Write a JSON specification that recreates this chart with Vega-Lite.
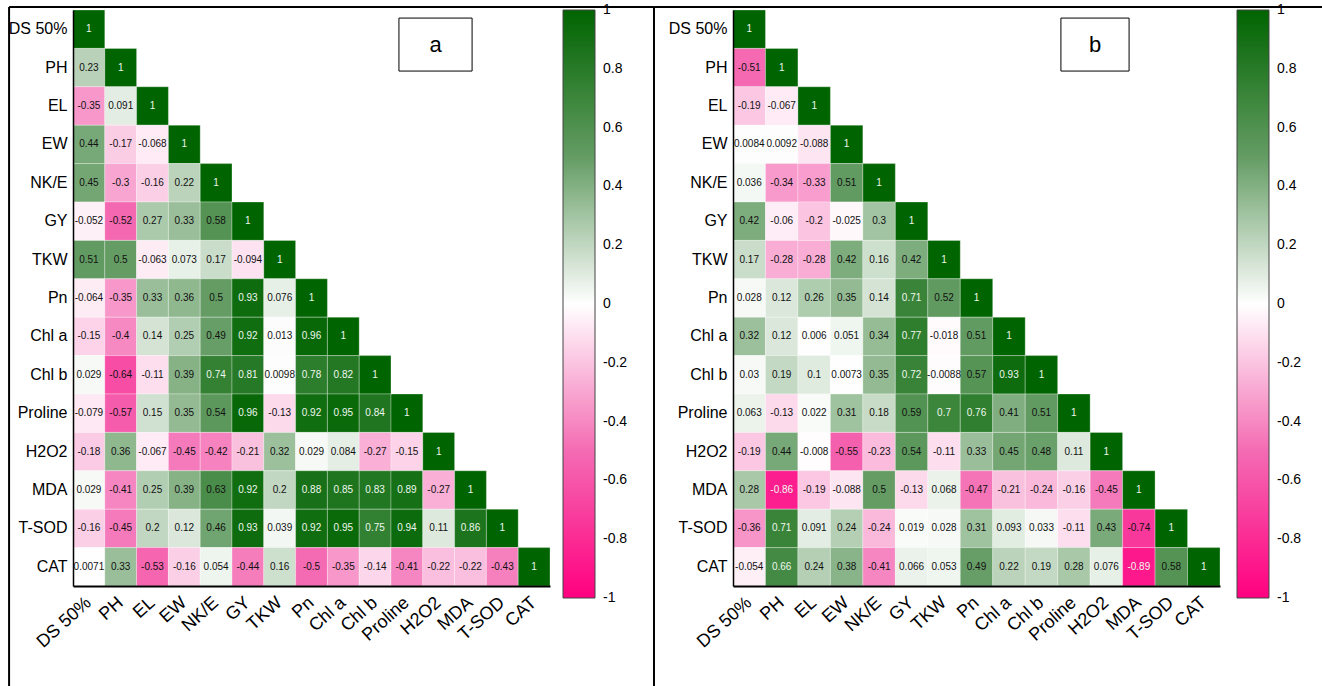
{
  "$schema": "https://vega.github.io/schema/vega-lite/v6.json",
  "background": "white",
  "padding": {"left": 8, "top": 5, "right": 0, "bottom": 0},
  "bounds": "flush",
  "spacing": 183,
  "resolve": {"scale": {"color": "independent"}, "legend": {"color": "independent"}},
  "config": {
    "view": {"stroke": null},
    "font": "Liberation Sans",
    "axis": {"labelFont": "Liberation Sans", "labelColor": "black", "ticks": false, "grid": false, "title": null, "domainColor": "black"},
    "legend": {"labelFont": "Liberation Sans"}
  },
  "datasets": {
    "a": [
      {"v":"DS 50%","DS 50%":1},
      {"v":"PH","DS 50%":0.23,"PH":1},
      {"v":"EL","DS 50%":-0.35,"PH":0.091,"EL":1},
      {"v":"EW","DS 50%":0.44,"PH":-0.17,"EL":-0.068,"EW":1},
      {"v":"NK/E","DS 50%":0.45,"PH":-0.3,"EL":-0.16,"EW":0.22,"NK/E":1},
      {"v":"GY","DS 50%":-0.052,"PH":-0.52,"EL":0.27,"EW":0.33,"NK/E":0.58,"GY":1},
      {"v":"TKW","DS 50%":0.51,"PH":0.5,"EL":-0.063,"EW":0.073,"NK/E":0.17,"GY":-0.094,"TKW":1},
      {"v":"Pn","DS 50%":-0.064,"PH":-0.35,"EL":0.33,"EW":0.36,"NK/E":0.5,"GY":0.93,"TKW":0.076,"Pn":1},
      {"v":"Chl a","DS 50%":-0.15,"PH":-0.4,"EL":0.14,"EW":0.25,"NK/E":0.49,"GY":0.92,"TKW":0.013,"Pn":0.96,"Chl a":1},
      {"v":"Chl b","DS 50%":0.029,"PH":-0.64,"EL":-0.11,"EW":0.39,"NK/E":0.74,"GY":0.81,"TKW":0.0098,"Pn":0.78,"Chl a":0.82,"Chl b":1},
      {"v":"Proline","DS 50%":-0.079,"PH":-0.57,"EL":0.15,"EW":0.35,"NK/E":0.54,"GY":0.96,"TKW":-0.13,"Pn":0.92,"Chl a":0.95,"Chl b":0.84,"Proline":1},
      {"v":"H2O2","DS 50%":-0.18,"PH":0.36,"EL":-0.067,"EW":-0.45,"NK/E":-0.42,"GY":-0.21,"TKW":0.32,"Pn":0.029,"Chl a":0.084,"Chl b":-0.27,"Proline":-0.15,"H2O2":1},
      {"v":"MDA","DS 50%":0.029,"PH":-0.41,"EL":0.25,"EW":0.39,"NK/E":0.63,"GY":0.92,"TKW":0.2,"Pn":0.88,"Chl a":0.85,"Chl b":0.83,"Proline":0.89,"H2O2":-0.27,"MDA":1},
      {"v":"T-SOD","DS 50%":-0.16,"PH":-0.45,"EL":0.2,"EW":0.12,"NK/E":0.46,"GY":0.93,"TKW":0.039,"Pn":0.92,"Chl a":0.95,"Chl b":0.75,"Proline":0.94,"H2O2":0.11,"MDA":0.86,"T-SOD":1},
      {"v":"CAT","DS 50%":0.0071,"PH":0.33,"EL":-0.53,"EW":-0.16,"NK/E":0.054,"GY":-0.44,"TKW":0.16,"Pn":-0.5,"Chl a":-0.35,"Chl b":-0.14,"Proline":-0.41,"H2O2":-0.22,"MDA":-0.22,"T-SOD":-0.43,"CAT":1}
    ],
    "b": [
      {"v":"DS 50%","DS 50%":1},
      {"v":"PH","DS 50%":-0.51,"PH":1},
      {"v":"EL","DS 50%":-0.19,"PH":-0.067,"EL":1},
      {"v":"EW","DS 50%":0.0084,"PH":0.0092,"EL":-0.088,"EW":1},
      {"v":"NK/E","DS 50%":0.036,"PH":-0.34,"EL":-0.33,"EW":0.51,"NK/E":1},
      {"v":"GY","DS 50%":0.42,"PH":-0.06,"EL":-0.2,"EW":-0.025,"NK/E":0.3,"GY":1},
      {"v":"TKW","DS 50%":0.17,"PH":-0.28,"EL":-0.28,"EW":0.42,"NK/E":0.16,"GY":0.42,"TKW":1},
      {"v":"Pn","DS 50%":0.028,"PH":0.12,"EL":0.26,"EW":0.35,"NK/E":0.14,"GY":0.71,"TKW":0.52,"Pn":1},
      {"v":"Chl a","DS 50%":0.32,"PH":0.12,"EL":0.006,"EW":0.051,"NK/E":0.34,"GY":0.77,"TKW":-0.018,"Pn":0.51,"Chl a":1},
      {"v":"Chl b","DS 50%":0.03,"PH":0.19,"EL":0.1,"EW":0.0073,"NK/E":0.35,"GY":0.72,"TKW":-0.0088,"Pn":0.57,"Chl a":0.93,"Chl b":1},
      {"v":"Proline","DS 50%":0.063,"PH":-0.13,"EL":0.022,"EW":0.31,"NK/E":0.18,"GY":0.59,"TKW":0.7,"Pn":0.76,"Chl a":0.41,"Chl b":0.51,"Proline":1},
      {"v":"H2O2","DS 50%":-0.19,"PH":0.44,"EL":-0.008,"EW":-0.55,"NK/E":-0.23,"GY":0.54,"TKW":-0.11,"Pn":0.33,"Chl a":0.45,"Chl b":0.48,"Proline":0.11,"H2O2":1},
      {"v":"MDA","DS 50%":0.28,"PH":-0.86,"EL":-0.19,"EW":-0.088,"NK/E":0.5,"GY":-0.13,"TKW":0.068,"Pn":-0.47,"Chl a":-0.21,"Chl b":-0.24,"Proline":-0.16,"H2O2":-0.45,"MDA":1},
      {"v":"T-SOD","DS 50%":-0.36,"PH":0.71,"EL":0.091,"EW":0.24,"NK/E":-0.24,"GY":0.019,"TKW":0.028,"Pn":0.31,"Chl a":0.093,"Chl b":0.033,"Proline":-0.11,"H2O2":0.43,"MDA":-0.74,"T-SOD":1},
      {"v":"CAT","DS 50%":-0.054,"PH":0.66,"EL":0.24,"EW":0.38,"NK/E":-0.41,"GY":0.066,"TKW":0.053,"Pn":0.49,"Chl a":0.22,"Chl b":0.19,"Proline":0.28,"H2O2":0.076,"MDA":-0.89,"T-SOD":0.58,"CAT":1}
    ]
  },
  "hconcat": [
    {
      "width": 477,
      "height": 576,
      "layer": [
        {
          "data": {"name": "a"},
          "transform": [
            {"fold": ["DS 50%","PH","EL","EW","NK/E","GY","TKW","Pn","Chl a","Chl b","Proline","H2O2","MDA","T-SOD","CAT"], "as": ["c","r"]},
            {"filter": "isValid(datum.r)"}
          ],
          "encoding": {
            "x": {"field": "c", "type": "nominal", "scale": {"domain": ["DS 50%","PH","EL","EW","NK/E","GY","TKW","Pn","Chl a","Chl b","Proline","H2O2","MDA","T-SOD","CAT"], "paddingInner": 0, "paddingOuter": 0},
                  "axis": {"domainWidth": 2, "labelAngle": -42, "labelAlign": "right", "labelBaseline": "middle", "labelFontSize": 18, "labelPadding": 14}},
            "y": {"field": "v", "type": "nominal", "scale": {"domain": ["DS 50%","PH","EL","EW","NK/E","GY","TKW","Pn","Chl a","Chl b","Proline","H2O2","MDA","T-SOD","CAT"], "paddingInner": 0, "paddingOuter": 0},
                  "axis": {"domainWidth": 1.5, "labelFontSize": 16, "labelPadding": 6}}
          },
          "layer": [
            {
              "mark": {"type": "rect", "stroke": "white", "strokeWidth": 0.6, "strokeOpacity": 0.5},
              "encoding": {
                "color": {"field": "r", "type": "quantitative",
                  "scale": {"domain": [-1, -0.5, 0, 0.5, 1], "range": ["#ff0080", "#f46bb3", "#ffffff", "#649c64", "#006400"], "interpolate": "rgb"},
                  "legend": {"title": null, "orient": "right", "offset": 13, "padding": 0, "direction": "vertical", "gradientLength": 588, "gradientThickness": 32,
                    "gradientStrokeColor": "#444", "gradientStrokeWidth": 1, "values": [1, 0.8, 0.6, 0.4, 0.2, 0, -0.2, -0.4, -0.6, -0.8, -1],
                    "labelExpr": "toString(datum.value)", "labelFontSize": 14, "labelColor": "black", "labelOffset": 8, "labelOverlap": false,
                    "encode": {"labels": {"update": {"baseline": {"value": "middle"}}}}}}
              }
            },
            {
              "mark": {"type": "text", "fontSize": 10, "font": "Liberation Sans"},
              "encoding": {
                "text": {"field": "r", "type": "nominal"},
                "color": {"condition": {"test": "datum.r >= 0.65 || datum.r <= -0.8", "value": "#eef7ee"}, "value": "#111111"}
              }
            }
          ]
        },
        {
          "data": {"values": [{}]},
          "encoding": {
            "x": {"datum": 0, "type": "quantitative", "scale": {"domain": [0, 15], "nice": false, "zero": false}, "axis": null},
            "y": {"datum": 0, "type": "quantitative", "scale": {"domain": [0, 15], "nice": false, "zero": false, "reverse": true}, "axis": null}
          },
          "layer": [
            {"mark": {"type": "rect", "fill": "white", "stroke": "black", "strokeWidth": 1},
             "encoding": {"x": {"datum": 10.25, "type": "quantitative"}, "x2": {"datum": 12.55}, "y": {"datum": 0.21, "type": "quantitative"}, "y2": {"datum": 1.59}}},
            {"mark": {"type": "text", "text": "a", "fontSize": 22, "font": "Liberation Sans", "color": "black"},
             "encoding": {"x": {"datum": 11.4, "type": "quantitative"}, "y": {"datum": 0.9, "type": "quantitative"}}},
            {"mark": {"type": "rule", "color": "black", "strokeWidth": 2},
             "encoding": {"x": {"datum": -2.01, "type": "quantitative"}, "y": {"datum": -0.08, "type": "quantitative"}, "y2": {"datum": 17.63}}},
            {"mark": {"type": "rule", "color": "black", "strokeWidth": 2},
             "encoding": {"x": {"datum": -2.01, "type": "quantitative"}, "x2": {"datum": 18.27}, "y": {"datum": -0.08, "type": "quantitative"}}},
            {"mark": {"type": "rule", "color": "black", "strokeWidth": 2},
             "encoding": {"x": {"datum": 18.27, "type": "quantitative"}, "y": {"datum": -0.08, "type": "quantitative"}, "y2": {"datum": 17.63}}}
          ]
        }
      ],
      "resolve": {"scale": {"x": "independent", "y": "independent"}}
    },
    {
      "width": 487,
      "height": 576,
      "layer": [
        {
          "data": {"name": "b"},
          "transform": [
            {"fold": ["DS 50%","PH","EL","EW","NK/E","GY","TKW","Pn","Chl a","Chl b","Proline","H2O2","MDA","T-SOD","CAT"], "as": ["c","r"]},
            {"filter": "isValid(datum.r)"}
          ],
          "encoding": {
            "x": {"field": "c", "type": "nominal", "scale": {"domain": ["DS 50%","PH","EL","EW","NK/E","GY","TKW","Pn","Chl a","Chl b","Proline","H2O2","MDA","T-SOD","CAT"], "paddingInner": 0, "paddingOuter": 0},
                  "axis": {"domainWidth": 2, "labelAngle": -42, "labelAlign": "right", "labelBaseline": "middle", "labelFontSize": 18, "labelPadding": 14}},
            "y": {"field": "v", "type": "nominal", "scale": {"domain": ["DS 50%","PH","EL","EW","NK/E","GY","TKW","Pn","Chl a","Chl b","Proline","H2O2","MDA","T-SOD","CAT"], "paddingInner": 0, "paddingOuter": 0},
                  "axis": {"domainWidth": 1.5, "labelFontSize": 16, "labelPadding": 6}}
          },
          "layer": [
            {
              "mark": {"type": "rect", "stroke": "white", "strokeWidth": 0.6, "strokeOpacity": 0.5},
              "encoding": {
                "color": {"field": "r", "type": "quantitative",
                  "scale": {"domain": [-1, -0.5, 0, 0.5, 1], "range": ["#ff0080", "#f46bb3", "#ffffff", "#649c64", "#006400"], "interpolate": "rgb"},
                  "legend": {"title": null, "orient": "right", "offset": 17, "padding": 0, "direction": "vertical", "gradientLength": 588, "gradientThickness": 32,
                    "gradientStrokeColor": "#444", "gradientStrokeWidth": 1, "values": [1, 0.8, 0.6, 0.4, 0.2, 0, -0.2, -0.4, -0.6, -0.8, -1],
                    "labelExpr": "toString(datum.value)", "labelFontSize": 14, "labelColor": "black", "labelOffset": 8, "labelOverlap": false,
                    "encode": {"labels": {"update": {"baseline": {"value": "middle"}}}}}}
              }
            },
            {
              "mark": {"type": "text", "fontSize": 10, "font": "Liberation Sans"},
              "encoding": {
                "text": {"field": "r", "type": "nominal"},
                "color": {"condition": {"test": "datum.r >= 0.65 || datum.r <= -0.8", "value": "#eef7ee"}, "value": "#111111"}
              }
            }
          ]
        },
        {
          "data": {"values": [{}]},
          "encoding": {
            "x": {"datum": 0, "type": "quantitative", "scale": {"domain": [0, 15], "nice": false, "zero": false}, "axis": null},
            "y": {"datum": 0, "type": "quantitative", "scale": {"domain": [0, 15], "nice": false, "zero": false, "reverse": true}, "axis": null}
          },
          "layer": [
            {"mark": {"type": "rect", "fill": "white", "stroke": "black", "strokeWidth": 1},
             "encoding": {"x": {"datum": 10.1, "type": "quantitative"}, "x2": {"datum": 12.2}, "y": {"datum": 0.21, "type": "quantitative"}, "y2": {"datum": 1.59}}},
            {"mark": {"type": "text", "text": "b", "fontSize": 22, "font": "Liberation Sans", "color": "black"},
             "encoding": {"x": {"datum": 11.15, "type": "quantitative"}, "y": {"datum": 0.9, "type": "quantitative"}}},
            {"mark": {"type": "rule", "color": "black", "strokeWidth": 2},
             "encoding": {"x": {"datum": -2.43, "type": "quantitative"}, "x2": {"datum": 18.15}, "y": {"datum": -0.08, "type": "quantitative"}}}
          ]
        }
      ],
      "resolve": {"scale": {"x": "independent", "y": "independent"}}
    }
  ]
}
